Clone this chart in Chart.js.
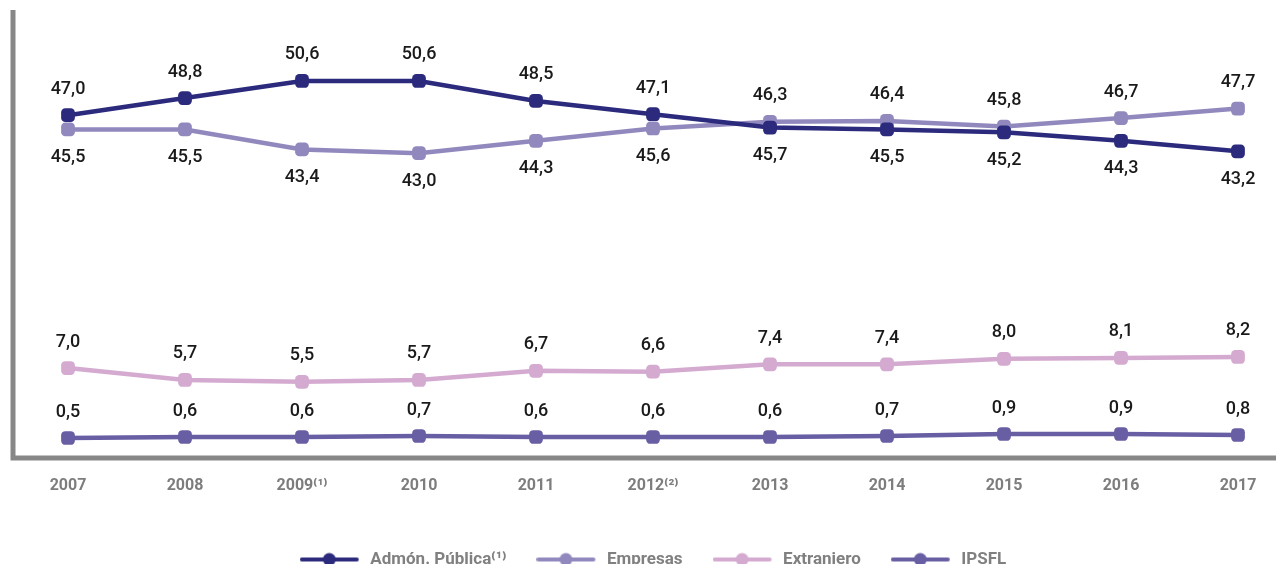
<!DOCTYPE html>
<html>
<head>
<meta charset="utf-8">
<script src="https://cdn.jsdelivr.net/npm/chart.js@4"></script>
<style>
  html, body { margin: 0; padding: 0; background: #fff; overflow: hidden; }
</style>
</head>
<body>
<canvas id="grafico" width="1276" height="578"></canvas>
<script>
// Años
const years = ['2007', '2008', '2009⁽¹⁾', '2010', '2011', '2012⁽²⁾', '2013', '2014', '2015', '2016', '2017'];

// Porcentaje por sector
const admonPublica = [47.0, 48.8, 50.6, 50.6, 48.5, 47.1, 45.7, 45.5, 45.2, 44.3, 43.2];
const empresas = [45.5, 45.5, 43.4, 43.0, 44.3, 45.6, 46.3, 46.4, 45.8, 46.7, 47.7];
const extranjero = [7.0, 5.7, 5.5, 5.7, 6.7, 6.6, 7.4, 7.4, 8.0, 8.1, 8.2];
const ipsfl = [0.5, 0.6, 0.6, 0.7, 0.6, 0.6, 0.6, 0.7, 0.9, 0.9, 0.8];

const colores = ['#2b2a7c', '#9189be', '#d4aad0', '#675ea3'];

// Muestra de la leyenda: línea con punto
function muestra(color) {
  const c = document.createElement('canvas');
  c.width = 62; c.height = 16;
  const g = c.getContext('2d');
  g.strokeStyle = color;
  g.lineWidth = 4;
  g.lineCap = 'round';
  g.beginPath(); g.moveTo(2, 8); g.lineTo(57, 8); g.stroke();
  g.fillStyle = color;
  g.beginPath(); g.arc(29.5, 8, 6.5, 0, Math.PI * 2); g.fill();
  return c;
}

// Ejes grises (izquierdo e inferior)
const ejes = {
  id: 'ejes',
  beforeDatasetsDraw(chart) {
    const { ctx, chartArea } = chart;
    ctx.save();
    ctx.strokeStyle = '#878787';
    ctx.lineWidth = 5;
    ctx.lineJoin = 'miter';
    ctx.beginPath();
    ctx.moveTo(13, chartArea.top);
    ctx.lineTo(13, chartArea.bottom);
    ctx.lineTo(chart.width, chartArea.bottom);
    ctx.stroke();
    ctx.restore();
  }
};

// Valores sobre / bajo los puntos
const etiquetas = {
  id: 'etiquetas',
  afterDatasetsDraw(chart) {
    const ctx = chart.ctx;
    ctx.save();
    ctx.font = '500 18px Roboto';
    ctx.fillStyle = '#1a1a1a';
    ctx.textAlign = 'center';
    ctx.textBaseline = 'middle';
    chart.data.datasets.forEach((ds, di) => {
      chart.getDatasetMeta(di).data.forEach((pt, i) => {
        let arriba = true;
        if (di === 0) arriba = admonPublica[i] >= empresas[i];
        if (di === 1) arriba = empresas[i] > admonPublica[i];
        const dy = arriba ? -26 : 28;
        ctx.fillText(ds.data[i].toFixed(1).replace('.', ','), pt.x, pt.y + dy);
      });
    });
    ctx.restore();
  }
};

const serie = (label, data, color, eje) => ({
  label, data,
  yAxisID: eje,
  borderColor: color,
  backgroundColor: color,
  borderWidth: 4.5,
  pointStyle: 'rectRounded',
  pointRadius: 8,
  pointBorderWidth: 0,
  tension: 0
});

new Chart(document.getElementById('grafico'), {
  type: 'line',
  data: {
    labels: years,
    datasets: [
      serie('Admón. Pública⁽¹⁾', admonPublica, colores[0], 'ySup'),
      serie('Empresas', empresas, colores[1], 'ySup'),
      serie('Extranjero', extranjero, colores[2], 'yExt'),
      serie('IPSFL', ipsfl, colores[3], 'yIps')
    ]
  },
  options: {
    responsive: false,
    animation: false,
    layout: { padding: { left: 68, right: 38, top: 10, bottom: 0 } },
    plugins: {
      tooltip: { enabled: false },
      legend: {
        position: 'bottom',
        labels: {
          usePointStyle: true,
          pointStyleWidth: 62,
          padding: 30,
          color: '#808080',
          font: { family: 'Roboto', size: 17, weight: 'bold' },
          generateLabels(chart) {
            return Chart.defaults.plugins.legend.labels.generateLabels(chart)
              .map((l, i) => Object.assign(l, { pointStyle: muestra(colores[i]) }));
          }
        }
      }
    },
    scales: {
      x: {
        offset: false,
        grid: { display: false },
        border: { display: false },
        ticks: {
          padding: 10,
          color: '#7d7d7d',
          font: { family: 'Roboto', size: 16, weight: 'bold' },
          maxRotation: 0
        },
        afterFit(s) { s.height = 63; }
      },
      ySup: { display: false, min: 10.92, max: 58.07 },
      yExt: { display: false, min: -2.78, max: 45.91 },
      yIps: { display: false, min: -1.5, max: 43.3 }
    }
  },
  plugins: [ejes, etiquetas]
});
</script>
</body>
</html>
